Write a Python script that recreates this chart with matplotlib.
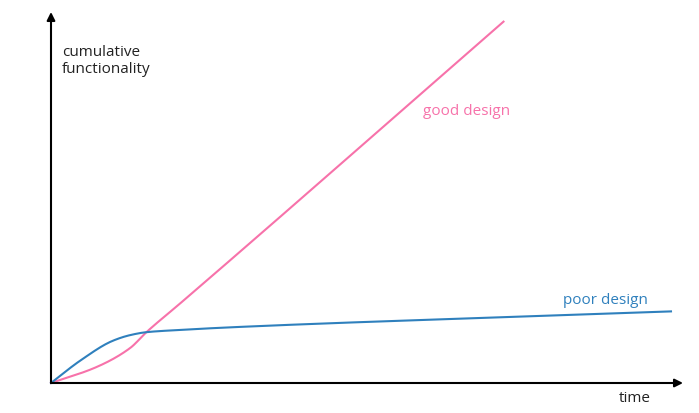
import numpy as np
import matplotlib.pyplot as plt

plt.rcParams['font.family'] = ['Open Sans', 'DejaVu Sans']

# data (time, cumulative functionality), both 0..100
good_t = [0, 7.2, 12.5, 15.1, 20.4, 71.6]
good_f = [0, 4.3, 9.4, 13.7, 21.4, 97.4]
poor_t = [0, 4.6, 9.8, 12.5, 15.1, 20.4, 28.3, 74.2, 98.1]
poor_f = [0, 6.0, 11.4, 12.9, 13.7, 14.3, 15.0, 17.9, 19.3]

pink = '#f772aa'
blue = '#2f80bd'

fig = plt.figure(figsize=(6.99, 4.14), dpi=100)
ax = fig.add_axes([51 / 699, 30 / 414, 632 / 699, 371 / 414])
ax.set_xlim(0, 100)
ax.set_ylim(0, 100)


def smooth(t, f, n=400):
    # monotone piecewise cubic through the read points
    t = np.asarray(t, float)
    f = np.asarray(f, float)
    h = np.diff(t)
    d = np.diff(f) / h
    m = np.zeros_like(f)
    m[0], m[-1] = d[0], d[-1]
    for i in range(1, len(f) - 1):
        if d[i - 1] * d[i] > 0:
            w1 = 2 * h[i] + h[i - 1]
            w2 = h[i] + 2 * h[i - 1]
            m[i] = (w1 + w2) / (w1 / d[i - 1] + w2 / d[i])
    xs = np.linspace(t[0], t[-1], n)
    k = np.clip(np.searchsorted(t, xs) - 1, 0, len(h) - 1)
    s = (xs - t[k]) / h[k]
    h00 = 2 * s**3 - 3 * s**2 + 1
    h10 = s**3 - 2 * s**2 + s
    h01 = -2 * s**3 + 3 * s**2
    h11 = s**3 - s**2
    ys = h00 * f[k] + h10 * h[k] * m[k] + h01 * f[k + 1] + h11 * h[k] * m[k + 1]
    return xs, ys


x, y = smooth(good_t, good_f)
ax.plot(x, y, color=pink, lw=1.5, clip_on=False)
x, y = smooth(poor_t, poor_f)
ax.plot(x, y, color=blue, lw=1.5, clip_on=False)

for s in ax.spines.values():
    s.set_visible(False)
ax.set_xticks([])
ax.set_yticks([])

arrow = dict(arrowstyle='-|>', color='black', lw=1.5, mutation_scale=12,
             shrinkA=0, shrinkB=0)
ax.annotate('', xy=(0, 100), xytext=(0, 0), arrowprops=arrow, annotation_clip=False)
ax.annotate('', xy=(100, 0), xytext=(0, 0), arrowprops=arrow, annotation_clip=False)

ax.text(1.7, 87.0, 'cumulative\nfunctionality', fontsize=11, color='#222222',
        ha='left', va='center', linespacing=1.15)
ax.text(65.8, 73.5, 'good design', fontsize=11, color=pink, ha='center', va='center')
ax.text(87.8, 22.5, 'poor design', fontsize=11, color=blue, ha='center', va='center')
ax.text(92.4, -3.8, 'time', fontsize=11, color='#222222', ha='center', va='center')

fig.savefig('out.png', dpi=100)
